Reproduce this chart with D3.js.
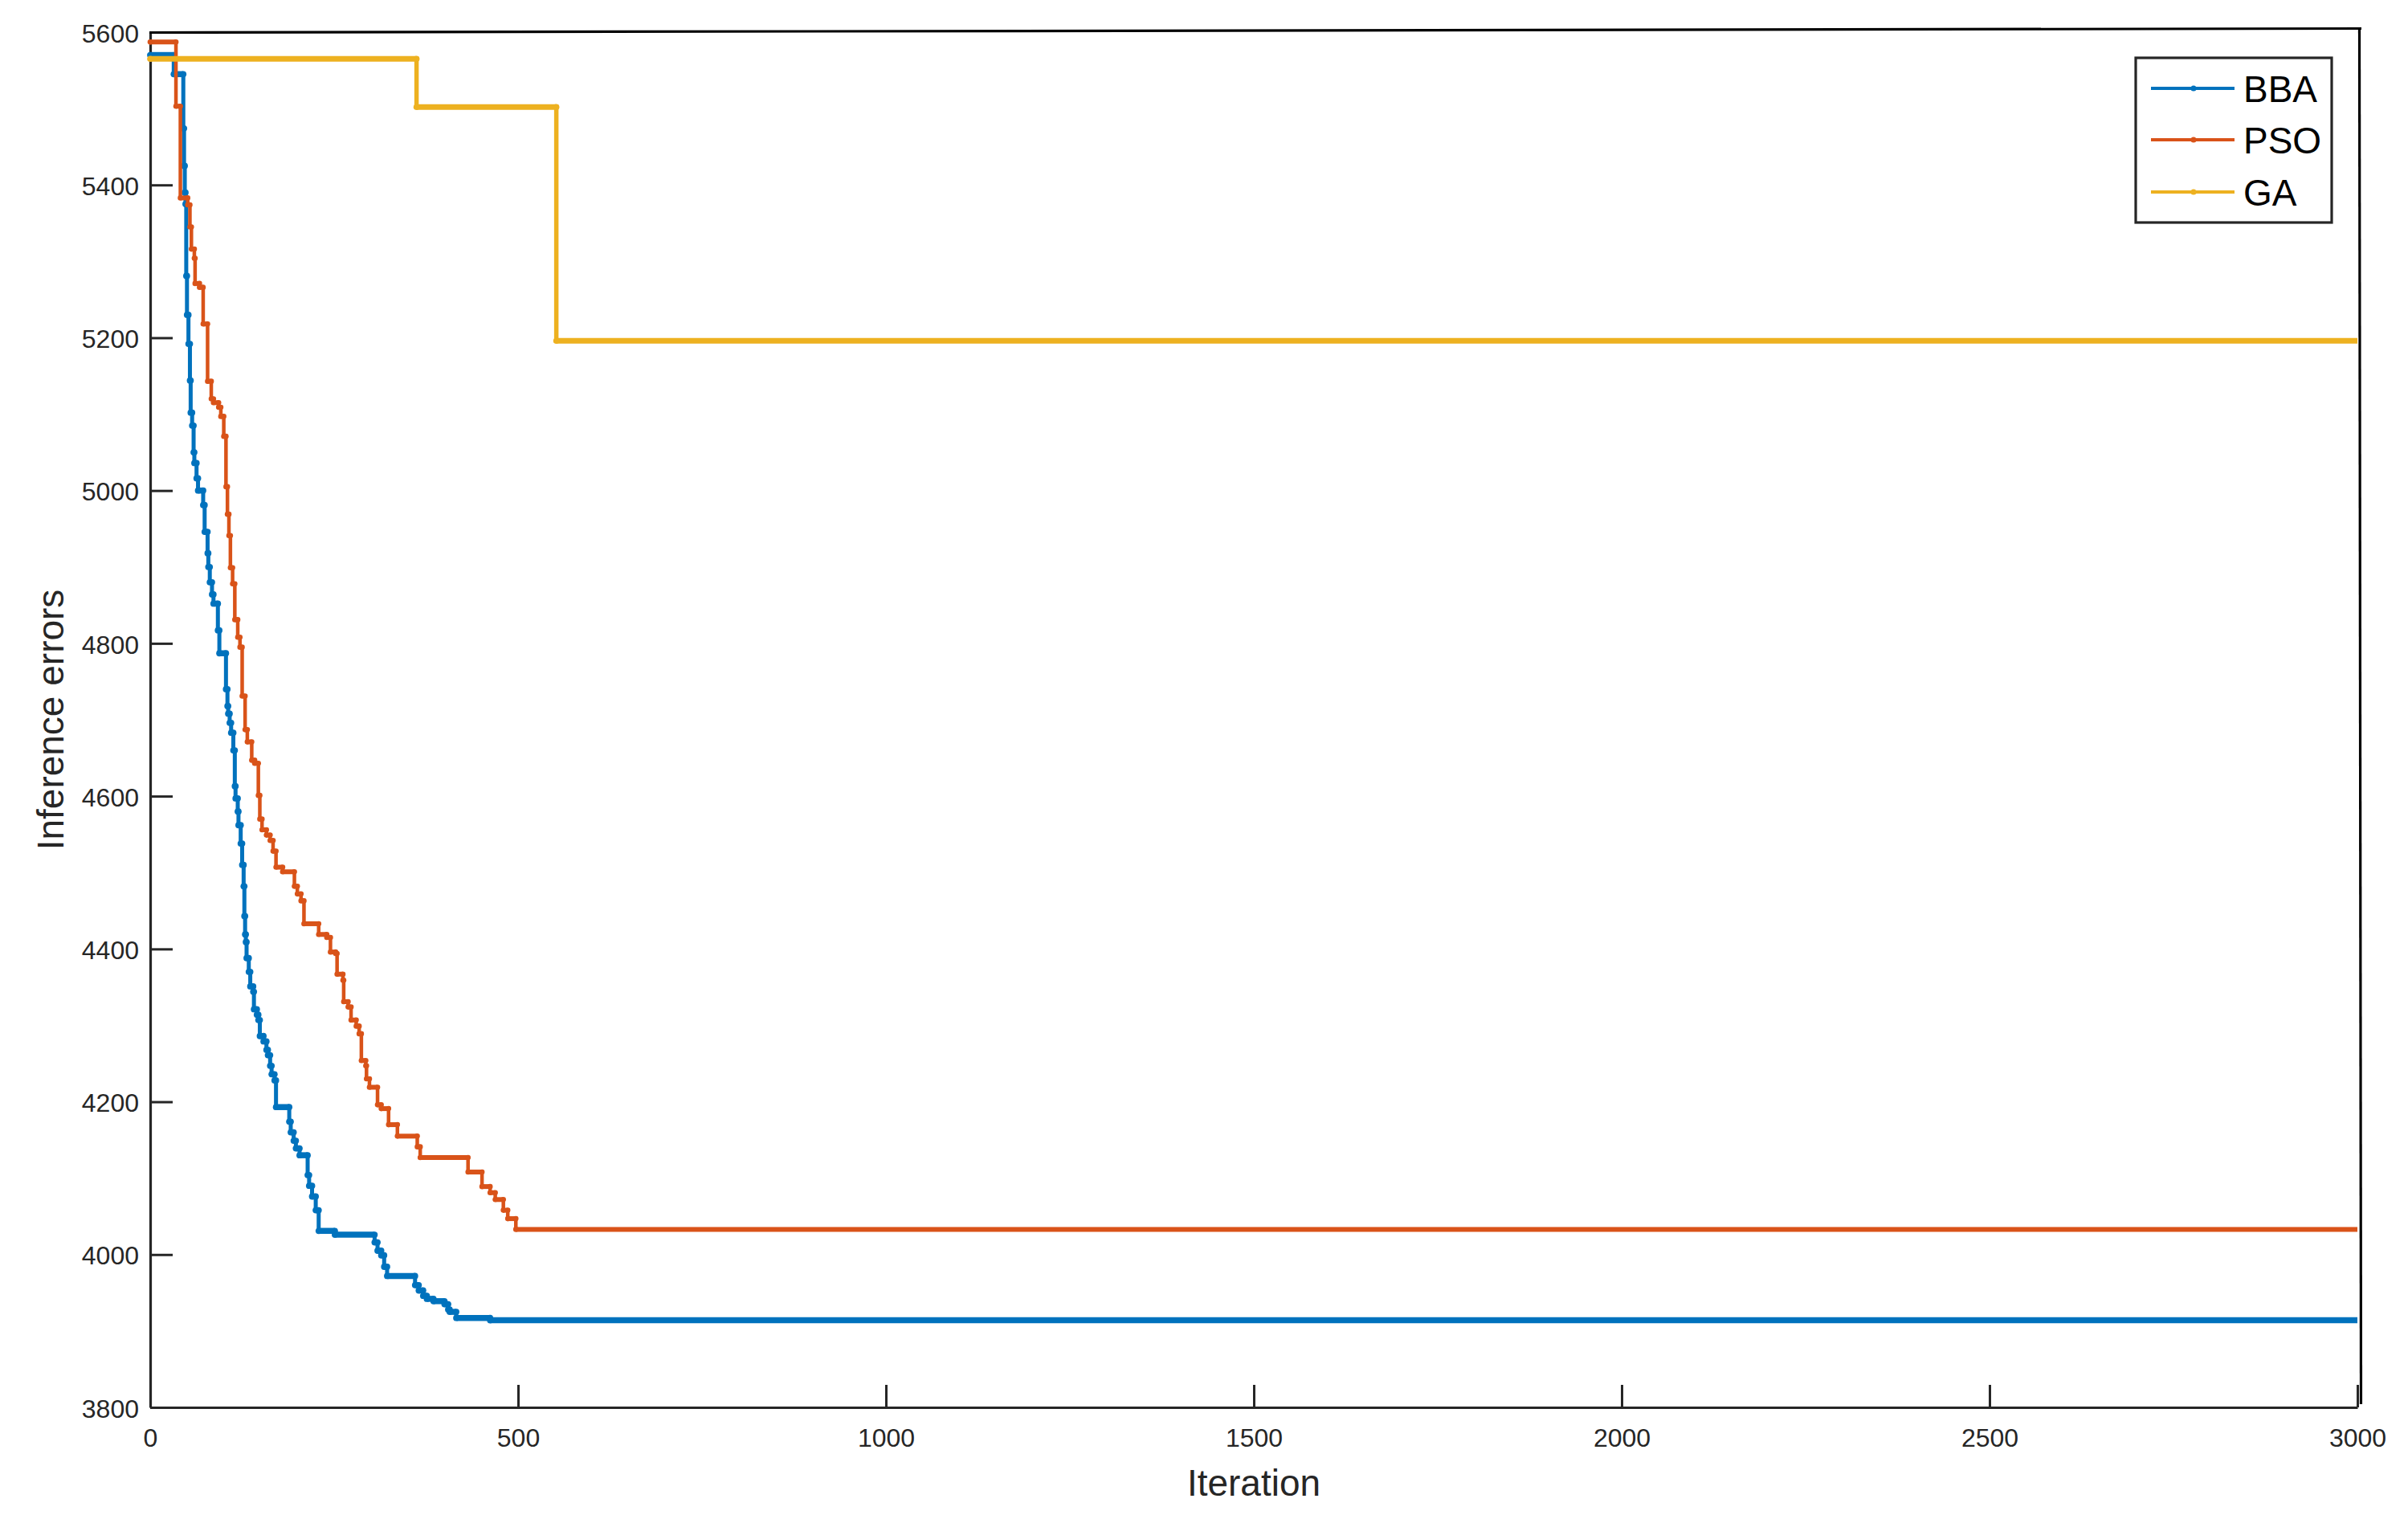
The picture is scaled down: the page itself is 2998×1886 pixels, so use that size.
<!DOCTYPE html>
<html>
<head>
<meta charset="utf-8">
<script src="https://cdn.jsdelivr.net/npm/d3@7"></script>
<style>
  html, body { margin: 0; padding: 0; background: #ffffff; }
  svg { display: block; }
</style>
</head>
<body>
<script>
// ---------------- DATA ----------------
const xTicks = [0, 500, 1000, 1500, 2000, 2500, 3000];
const yTicks = [3800, 4000, 4200, 4400, 4600, 4800, 5000, 5200, 5400, 5600];
const seriesNames = ["BBA", "PSO", "GA"];

// step breakpoints: value holds from the iteration until the next breakpoint
const bbaIter = [0, 32, 45, 46, 47, 48, 49, 50, 52, 54, 55, 57, 59, 60, 63, 65, 72, 74, 78, 79, 81, 84, 86, 92, 94,
  103, 105, 106, 108, 110, 113, 115, 116, 119, 120, 123, 125, 127, 128, 129, 130, 131, 134, 136, 140, 141, 145, 147,
  149, 154, 158, 160, 163, 165, 169, 171, 189, 191, 195, 198, 203, 214, 216, 220, 225, 229, 251, 305, 309, 314, 318,
  322, 360, 365, 371, 376, 385, 400, 405, 407, 416, 462, 3000];
const bbaVal = [5570, 5545, 5474, 5425, 5390, 5375, 5281, 5230, 5192, 5144, 5102, 5085, 5050, 5036, 5016, 5000, 4981,
  4946, 4918, 4900, 4880, 4864, 4852, 4817, 4787, 4740, 4718, 4708, 4696, 4683, 4660, 4613, 4597, 4580, 4562, 4538,
  4510, 4482, 4443, 4419, 4409, 4388, 4370, 4351, 4344, 4321, 4314, 4307, 4286, 4279, 4268, 4261, 4247, 4236, 4228,
  4193, 4174, 4160, 4149, 4139, 4130, 4104, 4090, 4076, 4058, 4031, 4026, 4016, 4005, 3999, 3984, 3972, 3960, 3953,
  3946, 3942, 3939, 3935, 3928, 3925, 3917, 3914, 3914];

const psoIter = [0, 35, 41, 51, 54, 56, 60, 61, 67, 72, 78, 83, 86, 93, 96, 100, 103, 105, 107, 109, 112, 115, 119,
  122, 125, 129, 132, 138, 142, 147, 149, 152, 158, 163, 167, 171, 180, 196, 200, 205, 209, 229, 240, 245, 252, 254,
  262, 263, 269, 273, 280, 284, 287, 293, 294, 298, 309, 314, 324, 336, 363, 367, 432, 451, 462, 469, 480, 486, 497, 3000];
const psoVal = [5587, 5503, 5383, 5374, 5345, 5316, 5304, 5271, 5266, 5218, 5143, 5120, 5115, 5109, 5097, 5071, 5005,
  4969, 4941, 4899, 4878, 4831, 4808, 4795, 4731, 4687, 4671, 4647, 4643, 4601, 4570, 4556, 4549, 4542, 4528, 4507,
  4501, 4482, 4472, 4463, 4433, 4419, 4415, 4396, 4394, 4367, 4359, 4331, 4324, 4307, 4299, 4289, 4254, 4247, 4230,
  4219, 4196, 4191, 4170, 4155, 4141, 4127, 4108, 4089, 4081, 4072, 4058, 4047, 4033, 4033];

const gaIter = [0, 362, 552, 3000];
const gaVal = [5565, 5502, 5196, 5196];

// ---------------- STYLE / LAYOUT ----------------
const W = 2998, H = 1886;
const plotLeft = 187, plotRight = 2935, plotTop = 40, plotBottom = 1752;
const colors = ["#0072BD", "#D95319", "#EDB120"];
const baseWidth = [5, 4.5, 5.5];
const flatWidth = [7.5, 6, 7];
const markR = [3.9, 3.3, 3.8];
const axisColor = "#262626";
const font = "'Liberation Sans', Arial, Helvetica, sans-serif";

const series = [
  { name: seriesNames[0], iter: bbaIter, val: bbaVal },
  { name: seriesNames[1], iter: psoIter, val: psoVal },
  { name: seriesNames[2], iter: gaIter, val: gaVal }
].map((s, i) => ({
  name: s.name, color: colors[i], bw: baseWidth[i], fw: flatWidth[i], r: markR[i],
  pts: s.iter.map((it, k) => ({ it: it, v: s.val[k] }))
}));

const svg = d3.select("body").append("svg")
  .attr("width", W).attr("height", H)
  .attr("viewBox", `0 0 ${W} ${H}`);
svg.append("rect").attr("width", W).attr("height", H).attr("fill", "#ffffff");

const x = d3.scaleLinear().domain([0, 3000]).range([plotLeft, plotRight]);
const y = d3.scaleLinear().domain([3800, 5600]).range([plotBottom, plotTop]);

// ---------------- AXES ----------------
const gx = svg.append("g")
  .attr("transform", `translate(0,${plotBottom})`)
  .call(d3.axisBottom(x).tickValues(xTicks).tickFormat(d3.format("d"))
    .tickSizeInner(-28).tickSizeOuter(0).tickPadding(26));
const gy = svg.append("g")
  .attr("transform", `translate(${plotLeft},0)`)
  .call(d3.axisLeft(y).tickValues(yTicks).tickFormat(d3.format("d"))
    .tickSizeInner(-28).tickSizeOuter(0).tickPadding(14));

[gx, gy].forEach(g => {
  g.select(".domain").attr("stroke", axisColor).attr("stroke-width", 3.2);
  g.selectAll(".tick line").attr("stroke", axisColor).attr("stroke-width", 3);
  g.selectAll(".tick text").attr("fill", axisColor)
    .style("font-family", font).style("font-size", "32px");
});
gy.selectAll(".tick text").attr("dy", "0.38em");

// black outer frame lines (top and right) as in the reference
svg.append("line").attr("x1", plotLeft - 1).attr("y1", 40.5).attr("x2", 2940).attr("y2", 35.5)
  .attr("stroke", "#000").attr("stroke-width", 3.2);
svg.append("line").attr("x1", 2937.5).attr("y1", 35).attr("x2", 2939.5).attr("y2", 1748)
  .attr("stroke", "#000").attr("stroke-width", 3.2);

// ---------------- SERIES ----------------
const stepLine = d3.line().x(d => x(d.it)).y(d => y(d.v)).curve(d3.curveStepAfter);
const gLines = svg.append("g");

series.forEach(s => {
  const g = gLines.append("g");
  // thicker flat parts (dense per-iteration markers in the original)
  const flats = d3.pairs(s.pts);
  g.selectAll("line.flat").data(flats).join("line")
    .attr("class", "flat")
    .attr("x1", d => x(d[0].it)).attr("x2", d => x(d[1].it))
    .attr("y1", d => y(d[0].v)).attr("y2", d => y(d[0].v))
    .attr("stroke", s.color).attr("stroke-width", s.fw);
  g.append("path").datum(s.pts)
    .attr("d", stepLine)
    .attr("fill", "none").attr("stroke", s.color)
    .attr("stroke-width", s.bw).attr("stroke-linejoin", "miter");
  // dot markers at the step corners
  const corners = [];
  s.pts.forEach((p, k) => {
    if (k > 0) corners.push({ it: p.it, v: s.pts[k - 1].v });
    corners.push(p);
  });
  g.selectAll("circle").data(corners.slice(0, -2)).join("circle")
    .attr("cx", d => x(d.it)).attr("cy", d => y(d.v)).attr("r", s.r)
    .attr("fill", s.color);
});

// ---------------- AXIS LABELS ----------------
svg.append("text")
  .attr("x", (plotLeft + plotRight) / 2).attr("y", 1862)
  .attr("text-anchor", "middle")
  .attr("fill", axisColor)
  .style("font-family", font).style("font-size", "46px")
  .text("Iteration");
svg.append("text")
  .attr("transform", `translate(79,${(plotTop + plotBottom) / 2}) rotate(-90)`)
  .attr("text-anchor", "middle")
  .attr("fill", axisColor)
  .style("font-family", font).style("font-size", "46px")
  .text("Inference errors");

// ---------------- LEGEND ----------------
const legend = svg.append("g");
legend.append("rect")
  .attr("x", 2659).attr("y", 72).attr("width", 244).attr("height", 205)
  .attr("fill", "#ffffff").attr("stroke", axisColor).attr("stroke-width", 3.2);
const rowY = [110, 174, 239];
series.forEach((s, i) => {
  legend.append("line")
    .attr("x1", 2678).attr("x2", 2782).attr("y1", rowY[i]).attr("y2", rowY[i])
    .attr("stroke", s.color).attr("stroke-width", 4);
  legend.append("circle").attr("cx", 2731).attr("cy", rowY[i]).attr("r", 3.6).attr("fill", s.color);
  legend.append("text")
    .attr("x", 2793).attr("y", rowY[i] + 17)
    .attr("fill", "#000")
    .style("font-family", font).style("font-size", "46px")
    .text(s.name);
});
</script>
</body>
</html>
